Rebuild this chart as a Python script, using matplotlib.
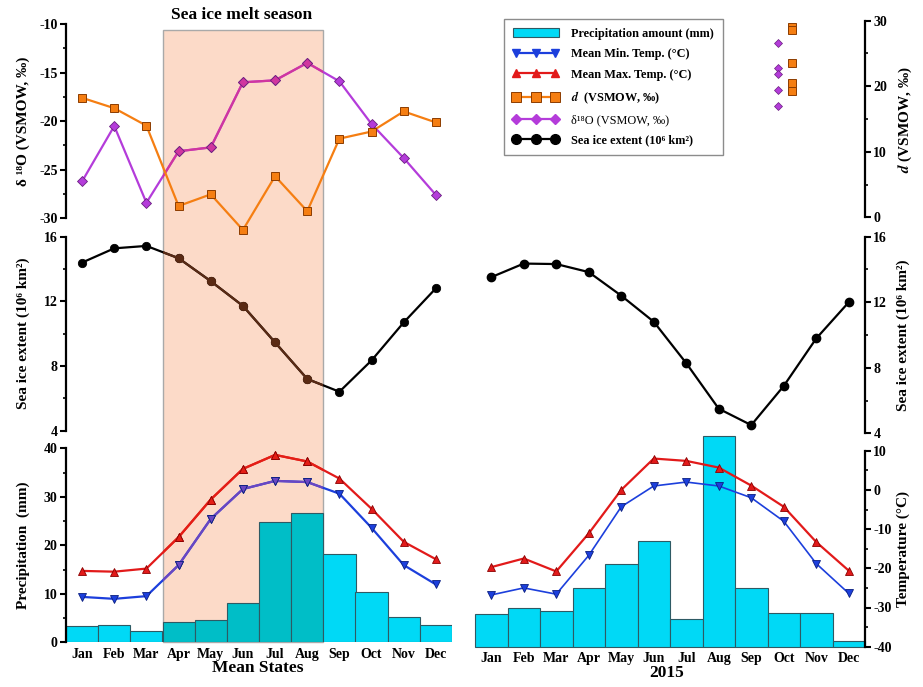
import matplotlib
matplotlib.use("Agg")
import matplotlib.pyplot as plt
import matplotlib.transforms as mtransforms
from matplotlib.patches import Rectangle, Patch
from matplotlib.lines import Line2D
from matplotlib.ticker import MultipleLocator

plt.rcParams['font.family'] = ['Liberation Serif', 'DejaVu Serif']
plt.rcParams['font.weight'] = 'bold'
plt.rcParams['mathtext.fontset'] = 'stix'
plt.rcParams['axes.unicode_minus'] = False

months = ['Jan', 'Feb', 'Mar', 'Apr', 'May', 'Jun',
          'Jul', 'Aug', 'Sep', 'Oct', 'Nov', 'Dec']

# ---- climatological means ----
mean_d18o = [-26.2, -20.5, -28.4, -23.1, -22.7, -16.0,
             -15.8, -14.0, -15.9, -20.3, -23.8, -27.6]
mean_dexcess = [18.6, 17.0, 14.3, 1.9, 3.7, -1.8,
                6.5, 1.1, 12.3, 13.4, 16.5, 14.8]
mean_ice = [14.40, 15.28, 15.43, 14.67, 13.25, 11.72,
            9.46, 7.20, 6.41, 8.35, 10.70, 12.81]
mean_precip = [3.3, 3.6, 2.3, 4.2, 4.6, 8.2,
               24.9, 26.7, 18.3, 10.4, 5.3, 3.6]
mean_tmax = [-21.6, -21.8, -21.0, -12.9, -3.2, 4.7,
             8.3, 6.6, 2.2, -5.6, -14.1, -18.6]
mean_tmin = [-28.3, -28.8, -28.1, -20.1, -8.2, -0.5,
             1.6, 1.3, -1.7, -10.5, -20.1, -25.1]

# ---- year 2015 ----
y15_ice = [13.53, 14.36, 14.33, 13.84, 12.40, 10.81,
           8.28, 5.50, 4.50, 6.89, 9.79, 12.00]
y15_precip = [6.6, 8.0, 7.2, 11.9, 16.9, 21.6,
              5.7, 43.0, 11.9, 6.9, 6.8, 1.2]
y15_tmax = [-19.7, -17.5, -20.8, -11.1, 0.0, 8.0,
            7.4, 5.7, 1.1, -4.3, -13.3, -20.6]
y15_tmin = [-26.8, -25.0, -26.6, -16.7, -4.3, 1.0,
            2.0, 1.0, -2.0, -8.0, -18.8, -26.4]
# 2015 event samples (position in month units)
y15_d18o_x = [8.83, 8.83, 8.83, 8.83, 8.83]
y15_d18o = [-12.3, -14.8, -15.4, -17.1, -18.7]
y15_d_x = [9.26, 9.26, 9.26, 9.26, 9.26]
y15_d = [29.1, 28.6, 23.5, 20.5, 19.3]

melt_first, melt_last = 3, 7   # Apr .. Aug

# colours
CYAN = '#00D9F6'
TEAL = '#00BEC7'
BAR_EDGE = '#2E5A64'
BLUE = '#1C3FDC'
RED = '#E21A1A'
ORANGE = '#F57E12'
ORANGE_EDGE = '#8C3C00'
PURPLE = '#B43CDA'
BLACK = '#000000'
TINT = {BLACK: '#5A2A14', BLUE: '#6A46C2', PURPLE: '#D0369F',
        RED: '#E41E16', ORANGE: ORANGE}
SHADE = '#FCDAC8'

W, H = 923, 687
fig = plt.figure(figsize=(W / 100, H / 100), dpi=100)


def box(x0, y0, x1, y1):
    return [x0 / W, 1 - y1 / H, (x1 - x0) / W, (y1 - y0) / H]


ax_lt = fig.add_axes(box(66, 24, 452, 218.3))
ax_lm = fig.add_axes(box(66, 236.7, 452, 430.7))
ax_lb = fig.add_axes(box(66, 448.3, 452, 642.3))
ax_rt = fig.add_axes(box(475, 20.7, 865, 217.3))
ax_rm = fig.add_axes(box(475, 236.7, 865, 433.3))
ax_rb = fig.add_axes(box(475, 450.7, 865, 646.7))

ax_lt_d = ax_lt.twinx()
ax_lb_t = ax_lb.twinx()
ax_rt_o = ax_rt.twinx()
ax_rb_t = ax_rb.twinx()

x = list(range(12))

for ax in fig.axes:
    ax.set_xlim(-0.5, 11.5)
    ax.patch.set_visible(False)
    for s in ax.spines.values():
        s.set_visible(False)
        s.set_linewidth(1.6)


def style_axis(ax, side, major, minor, lim):
    ax.set_ylim(*lim)
    ax.spines[side].set_visible(True)
    if side == 'left':
        ax.yaxis.tick_left()
        ax.yaxis.set_label_position('left')
    else:
        ax.yaxis.tick_right()
        ax.yaxis.set_label_position('right')
    ax.yaxis.set_major_locator(MultipleLocator(major))
    ax.yaxis.set_minor_locator(MultipleLocator(minor))
    ax.tick_params(axis='y', which='major', direction='out', length=4,
                   width=1.5, labelsize=10, pad=2)
    ax.tick_params(axis='y', which='minor', direction='out', length=2.5,
                   width=1.2)


def hide_axis(ax, lim):
    ax.set_ylim(*lim)
    ax.yaxis.set_visible(False)


style_axis(ax_lt, 'left', 5, 2.5, (-30, -10))
hide_axis(ax_lt_d, (0, 30))
style_axis(ax_lm, 'left', 4, 2, (4, 16))
style_axis(ax_lb, 'left', 10, 5, (0, 40))
hide_axis(ax_lb_t, (-40, 10))
style_axis(ax_rt, 'right', 10, 5, (0, 30))
hide_axis(ax_rt_o, (-30, -10))
style_axis(ax_rm, 'right', 4, 2, (4, 16))
hide_axis(ax_rb, (0, 40))
style_axis(ax_rb_t, 'right', 10, 5, (-40, 10))

for ax in (ax_lt, ax_lm, ax_rt, ax_rm, ax_lt_d, ax_rt_o):
    ax.set_xticks([])
for ax in (ax_lb, ax_rb):
    ax.set_xticks(x, months)
    ax.tick_params(axis='x', length=0, pad=4, labelsize=10)

# melt-season band spanning the three left panels
band_tr = mtransforms.blended_transform_factory(ax_lb.transData, fig.transFigure)
band = Rectangle((melt_first - 0.5, 1 - 642.3 / H), melt_last - melt_first + 1,
                 (642.3 - 30) / H, transform=band_tr, facecolor=SHADE,
                 edgecolor='#A9A9A9', linewidth=1.0, zorder=-1)
fig.add_artist(band)


def line_with_band(ax, xs, ys, color, marker, ms, clip=True, mec=None):
    kw = dict(marker=marker, markersize=ms, linewidth=1.6,
              markeredgecolor=mec if mec else color, markeredgewidth=0.6,
              clip_on=clip)
    ax.plot(xs, ys, color=color, markerfacecolor=color, **kw)
    tint = TINT[color]
    if tint != color:
        ln, = ax.plot(xs, ys, color=tint, markerfacecolor=tint,
                      **dict(kw, markeredgecolor=mec if mec else tint))
        tr = mtransforms.blended_transform_factory(ax.transData, ax.transAxes)
        ln.set_clip_path(Rectangle((melt_first - 0.5, 0),
                                   melt_last - melt_first + 1, 1, transform=tr))


# ---- left column: mean states ----
line_with_band(ax_lt, x, mean_d18o, PURPLE, 'D', 5, mec='#6A1F80')
ax_lt_d.plot(x, mean_dexcess, color=ORANGE, marker='s', markersize=6,
             linewidth=1.6, markerfacecolor=ORANGE,
             markeredgecolor=ORANGE_EDGE, markeredgewidth=0.7, clip_on=False)

line_with_band(ax_lm, x, mean_ice, BLACK, 'o', 6)

bar_cols = [TEAL if melt_first <= i <= melt_last else CYAN for i in x]
ax_lb.bar(x, mean_precip, width=1.0, color=bar_cols, edgecolor=BAR_EDGE,
          linewidth=0.8, zorder=1)
line_with_band(ax_lb_t, x, mean_tmax, RED, '^', 5.5, mec='#8A0000')
line_with_band(ax_lb_t, x, mean_tmin, BLUE, 'v', 5.5, mec='#0A1F80')

# ---- right column: 2015 ----
ax_rt.plot(y15_d_x, y15_d, linestyle='none', marker='s', markersize=6,
           markerfacecolor=ORANGE, markeredgecolor=ORANGE_EDGE,
           markeredgewidth=0.7)
ax_rt_o.plot(y15_d18o_x, y15_d18o, linestyle='none', marker='D',
             markersize=4.5, markerfacecolor=PURPLE,
             markeredgecolor='#6A1F80', markeredgewidth=0.5)

ax_rm.plot(x, y15_ice, color=BLACK, marker='o', markersize=6, linewidth=1.6)

ax_rb.bar(x, y15_precip, width=1.0, color=CYAN, edgecolor=BAR_EDGE,
          linewidth=0.8, clip_on=False)
ax_rb_t.plot(x, y15_tmax, color=RED, marker='^', markersize=5.5,
             linewidth=1.6, markeredgecolor='#8A0000', markeredgewidth=0.6)
ax_rb_t.plot(x, y15_tmin, color=BLUE, marker='v', markersize=5.5,
             linewidth=1.2, markeredgecolor='#0A1F80', markeredgewidth=0.6)

# ---- axis labels ----
lab = dict(fontsize=11, fontweight='bold')
ax_lt.set_ylabel('δ ¹⁸O (VSMOW, ‰)', **lab)
ax_lm.set_ylabel('Sea ice extent (10⁶ km²)', **lab)
ax_lb.set_ylabel('Precipitation  (mm)', **lab)
for ax in (ax_lt, ax_lm, ax_lb):
    ax.yaxis.set_label_coords(-36 / 386, 0.5)
ax_rt.set_ylabel(r'$d$ (VSMOW, ‰)', **lab)
ax_rm.set_ylabel('Sea ice extent (10⁶ km²)', **lab)
ax_rb_t.set_ylabel('Temperature (°C)', **lab)
for ax in (ax_rt, ax_rm, ax_rb_t):
    ax.yaxis.set_label_coords(1 + 32 / 390, 0.5)

fig.text(242 / W, 1 - 15 / H, 'Sea ice melt season', ha='center',
         va='center', fontsize=12.5, fontweight='bold')
fig.text(258 / W, 1 - 668 / H, 'Mean States', ha='center', va='center',
         fontsize=12.5, fontweight='bold')
fig.text(667 / W, 1 - 673 / H, '2015', ha='center', va='center',
         fontsize=12.5, fontweight='bold')

# ---- legend ----
handles = [
    Patch(facecolor=CYAN, edgecolor=BAR_EDGE, linewidth=0.8),
    Line2D([], [], color=BLUE, marker='v', markersize=6, linewidth=1.6),
    Line2D([], [], color=RED, marker='^', markersize=6, linewidth=1.6),
    Line2D([], [], color=ORANGE, marker='s', markersize=7, linewidth=1.6,
           markeredgecolor=ORANGE_EDGE, markeredgewidth=0.7),
    Line2D([], [], color=PURPLE, marker='D', markersize=5.5, linewidth=1.6),
    Line2D([], [], color=BLACK, marker='o', markersize=7, linewidth=1.6),
]
labels = ['Precipitation amount (mm)', 'Mean Min. Temp. (°C)',
          'Mean Max. Temp. (°C)', r'$d$  (VSMOW, ‰)', 'δ¹⁸O (VSMOW, ‰)',
          'Sea ice extent (10⁶ km²)']
leg = fig.legend(handles, labels, loc='upper left',
                 bbox_to_anchor=(504 / W, 1 - 19 / H), numpoints=3,
                 fontsize=8.8, handlelength=3.8, handletextpad=1.0,
                 labelspacing=0.7, borderpad=0.7, borderaxespad=0,
                 fancybox=False, framealpha=1, edgecolor='#8C8C8C')
leg.get_frame().set_linewidth(1.0)
leg.get_texts()[4].set_fontweight('normal')

fig.savefig('out.png', dpi=100)
